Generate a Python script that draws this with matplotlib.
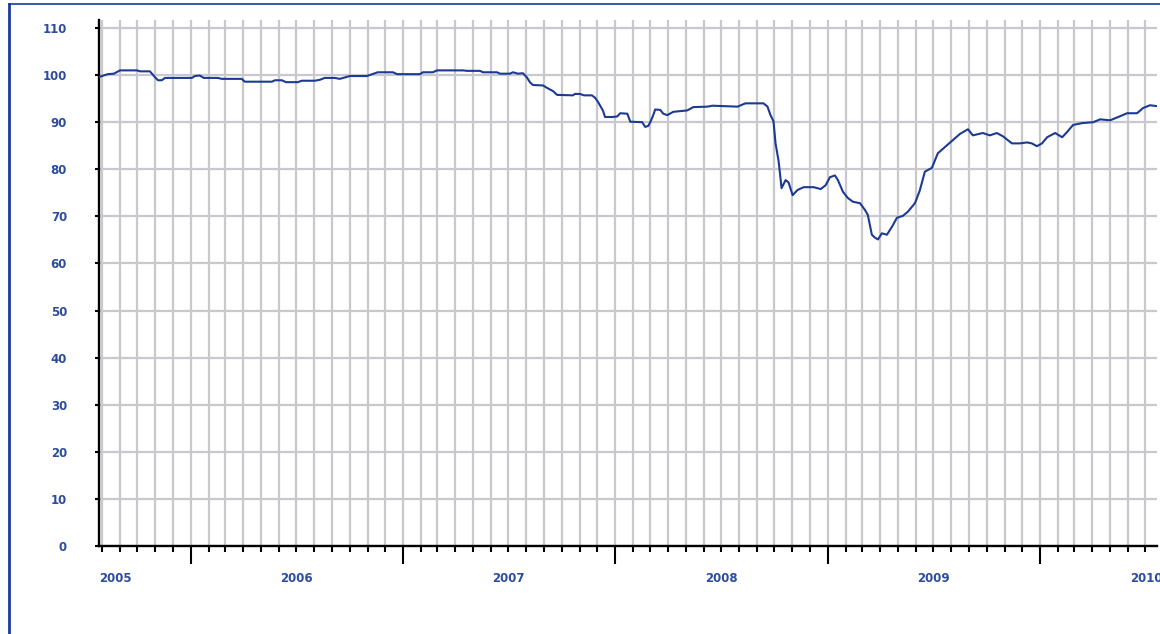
import numpy as np
import matplotlib
matplotlib.use("Agg")
import matplotlib.pyplot as plt
import matplotlib.dates as mdates
import matplotlib.transforms as mtransforms
from matplotlib.lines import Line2D
from datetime import datetime, timedelta

# index level, x given as decimal years
years = [
    2005.567, 2005.609, 2005.637, 2005.666, 2005.746, 2005.760, 2005.807, 2005.830,
    2005.845, 2005.863, 2005.878, 2006.005, 2006.019, 2006.042, 2006.061, 2006.127,
    2006.146, 2006.240, 2006.254, 2006.382, 2006.396, 2006.429, 2006.448, 2006.504,
    2006.523, 2006.584, 2006.608, 2006.631, 2006.678, 2006.702, 2006.749, 2006.829,
    2006.881, 2006.952, 2006.972, 2007.080, 2007.094, 2007.141, 2007.160, 2007.283,
    2007.302, 2007.363, 2007.377, 2007.443, 2007.457, 2007.504, 2007.518, 2007.542,
    2007.565, 2007.584, 2007.598, 2007.612, 2007.660, 2007.678, 2007.707, 2007.726,
    2007.801, 2007.810, 2007.834, 2007.853, 2007.890, 2007.905, 2007.919, 2007.942,
    2007.952, 2007.985, 2008.009, 2008.024, 2008.057, 2008.071, 2008.127, 2008.141,
    2008.155, 2008.165, 2008.179, 2008.188, 2008.212, 2008.226, 2008.245, 2008.273,
    2008.339, 2008.367, 2008.433, 2008.457, 2008.575, 2008.612, 2008.697, 2008.716,
    2008.730, 2008.744, 2008.754, 2008.768, 2008.782, 2008.801, 2008.815, 2008.834,
    2008.857, 2008.886, 2008.933, 2008.966, 2008.989, 2009.009, 2009.033, 2009.047,
    2009.071, 2009.094, 2009.118, 2009.151, 2009.174, 2009.188, 2009.207, 2009.221,
    2009.236, 2009.254, 2009.278, 2009.302, 2009.325, 2009.353, 2009.377, 2009.410,
    2009.433, 2009.457, 2009.490, 2009.518, 2009.551, 2009.589, 2009.622, 2009.660,
    2009.683, 2009.730, 2009.763, 2009.796, 2009.825, 2009.867, 2009.905, 2009.938,
    2009.961, 2009.985, 2010.009, 2010.033, 2010.071, 2010.104, 2010.127, 2010.155,
    2010.198, 2010.250, 2010.283, 2010.330, 2010.363, 2010.410, 2010.457, 2010.485,
    2010.518, 2010.551,
]
values = [
    99.6, 100.2, 100.3, 101.0, 101.0, 100.8, 100.8, 99.6,
    98.9, 98.9, 99.4, 99.4, 99.8, 99.9, 99.4, 99.4,
    99.2, 99.2, 98.6, 98.6, 98.9, 98.9, 98.5, 98.5,
    98.8, 98.8, 99.0, 99.4, 99.4, 99.2, 99.8, 99.8,
    100.6, 100.6, 100.2, 100.2, 100.6, 100.6, 101.0, 101.0,
    100.9, 100.9, 100.6, 100.6, 100.3, 100.3, 100.6, 100.3,
    100.4, 99.5, 98.5, 97.9, 97.8, 97.3, 96.6, 95.8,
    95.7, 96.0, 96.0, 95.7, 95.7, 95.2, 94.3, 92.5,
    91.1, 91.1, 91.2, 91.9, 91.8, 90.1, 90.0, 89.0,
    89.2, 90.0, 91.5, 92.7, 92.6, 91.8, 91.5, 92.2,
    92.5, 93.2, 93.3, 93.5, 93.3, 94.0, 94.0, 93.3,
    91.5, 90.2, 85.4, 81.8, 76.0, 77.7, 77.2, 74.5,
    75.6, 76.2, 76.2, 75.8, 76.6, 78.3, 78.7, 77.7,
    75.2, 73.9, 73.1, 72.8, 71.4, 70.3, 66.1, 65.5,
    65.1, 66.4, 66.1, 67.8, 69.7, 70.1, 71.0, 72.8,
    75.5, 79.5, 80.3, 83.4, 84.7, 86.2, 87.5, 88.5,
    87.2, 87.7, 87.2, 87.7, 87.0, 85.5, 85.5, 85.7,
    85.5, 84.9, 85.5, 86.8, 87.7, 86.8, 87.9, 89.4,
    89.8, 90.0, 90.6, 90.4, 91.0, 91.9, 91.9, 93.0,
    93.6, 93.4,
]
year_labels = ['2005', '2006', '2007', '2008', '2009', '2010']
y_ticks = [0, 10, 20, 30, 40, 50, 60, 70, 80, 90, 100, 110]

blue_txt = '#2c4c9c'
line_col = '#1d3a92'
grid_col = '#c8c8ce'


def to_date(y):
    yr = int(y)
    start = datetime(yr, 1, 1)
    ndays = (datetime(yr + 1, 1, 1) - start).days
    return start + timedelta(days=(y - yr) * ndays)


dates = [to_date(y) for y in years]

fig = plt.figure(figsize=(11.6, 6.34), dpi=100)
ax = fig.add_axes([99/1160, 1 - 546/634, (1157 - 99)/1160, (546 - 20)/634])

ax.plot(dates, values, color=line_col, linewidth=1.5, zorder=3)

ax.set_xlim(dates[0], dates[-1])
ax.set_ylim(0, 111.7)

# monthly grid, yearly long ticks
ax.xaxis.set_major_locator(mdates.YearLocator())
ax.xaxis.set_minor_locator(mdates.MonthLocator())
ax.xaxis.set_major_formatter(plt.NullFormatter())
ax.set_yticks(y_ticks)
ax.grid(True, which='minor', axis='x', color=grid_col, linewidth=1.6, zorder=0)
ax.grid(True, which='major', axis='x', color=grid_col, linewidth=1.6, zorder=0)
ax.grid(True, which='major', axis='y', color=grid_col, linewidth=1.6, zorder=0)
ax.set_axisbelow(True)

ax.tick_params(axis='x', which='major', direction='out', length=13, width=1.5, color='black')
ax.tick_params(axis='x', which='minor', direction='out', length=4, width=1.5, color='black')
ax.tick_params(axis='y', direction='out', length=3, width=1.5, color='black',
               pad=20, labelcolor=blue_txt)
for lab in ax.get_yticklabels():
    lab.set_fontweight('bold')
    lab.set_fontsize(8.5)

ax.spines['top'].set_visible(False)
ax.spines['right'].set_visible(False)
ax.spines['left'].set_linewidth(1.7)
ax.spines['bottom'].set_linewidth(1.7)

# year labels, centred on each year but kept inside the axis
trans = mtransforms.blended_transform_factory(ax.transData, fig.transFigure)
trans_r = mtransforms.offset_copy(trans, fig=fig, x=-4, units='dots')
ylab = 1 - 579/634
for lab in year_labels:
    yr = int(lab)
    mid = datetime(yr, 7, 2)
    if mid < dates[0]:
        ax.text(dates[0], ylab, lab, transform=trans, ha='left', va='center',
                color=blue_txt, fontsize=8.5, fontweight='bold')
    elif mid > dates[-1]:
        ax.text(dates[-1], ylab, lab, transform=trans_r, ha='right', va='center',
                color=blue_txt, fontsize=8.5, fontweight='bold')
    else:
        ax.text(mid, ylab, lab, transform=trans, ha='center', va='center',
                color=blue_txt, fontsize=8.5, fontweight='bold')

# blue frame (top and left edges)
fig.add_artist(Line2D([9/1160, 1], [1 - 4/634, 1 - 4/634], transform=fig.transFigure,
                      color='#1a3a9a', linewidth=1.2))
fig.add_artist(Line2D([9/1160, 9/1160], [0, 1 - 4/634], transform=fig.transFigure,
                      color='#1a3a9a', linewidth=2))

plt.savefig('out.png', dpi=100)
plt.close()
